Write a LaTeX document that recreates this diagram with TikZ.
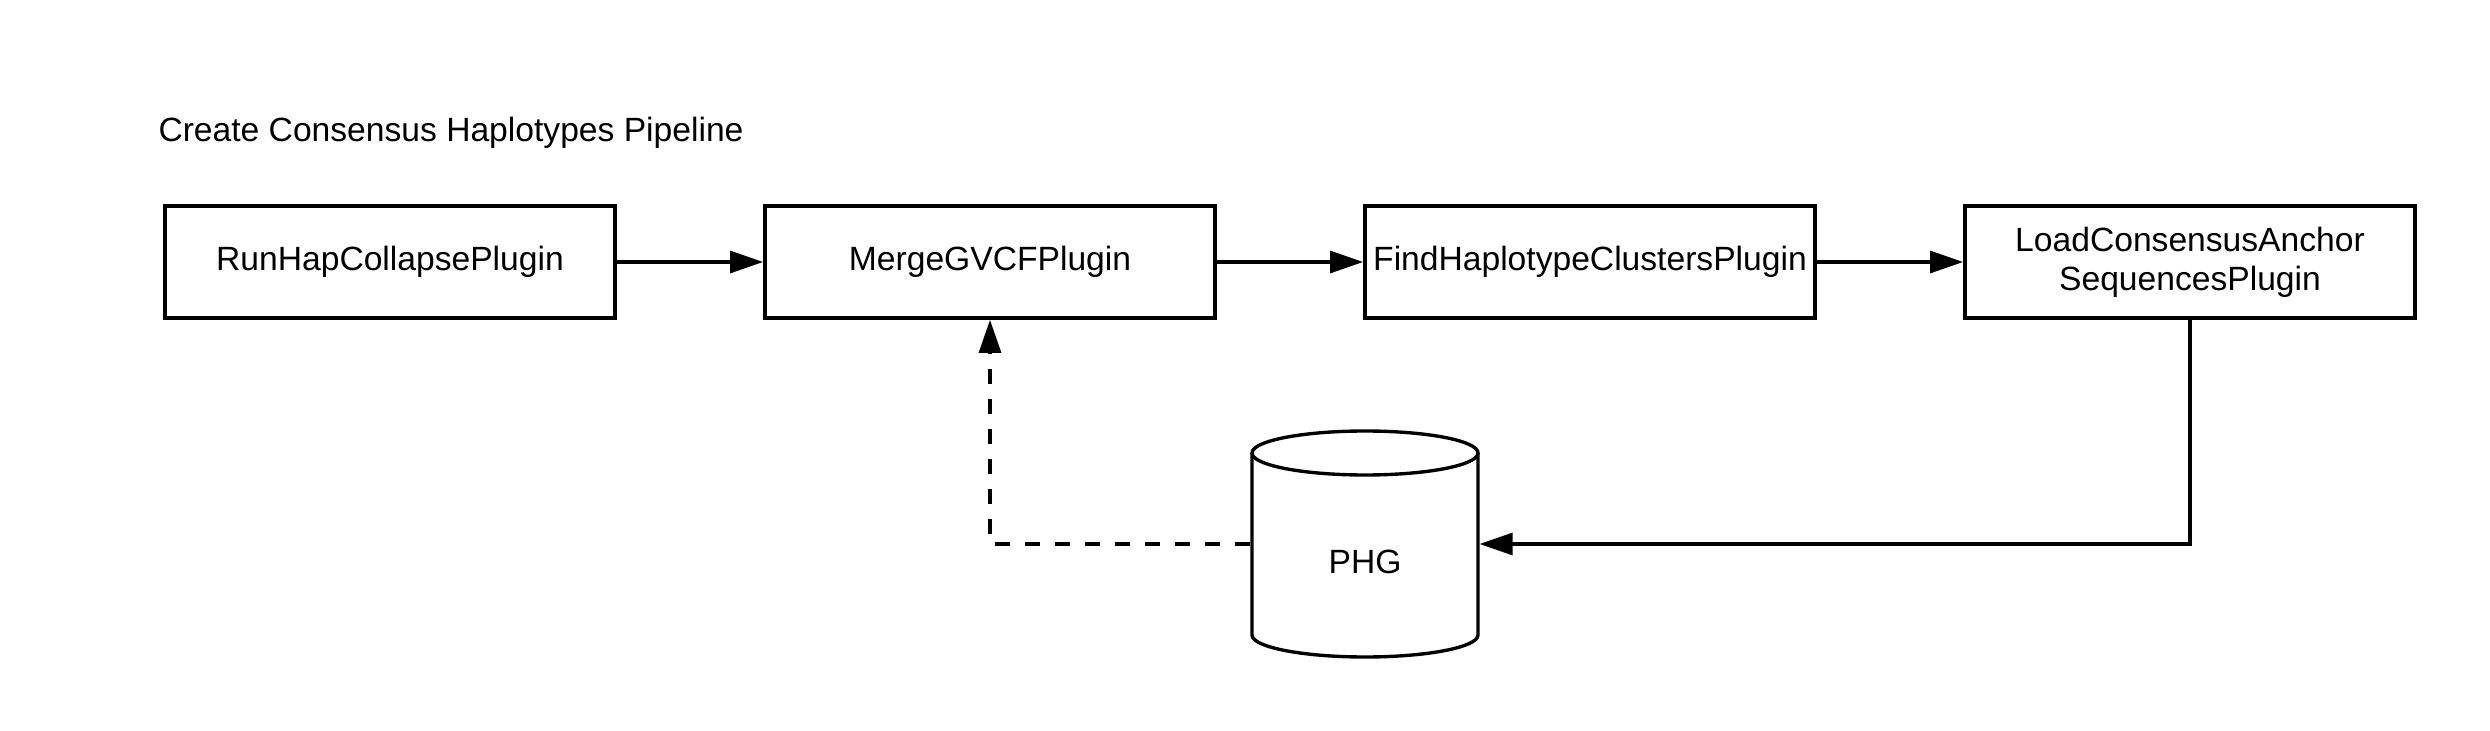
\documentclass[tikz,border=0pt]{standalone}
\usepackage{fontspec}
\setmainfont{Liberation Sans}
\usetikzlibrary{arrows.meta}
\begin{document}
\begin{tikzpicture}[x=0.4pt,y=-0.4pt,
  font=\fontsize{13.45pt}{15.6pt}\selectfont,
  plugbox/.style={draw,line width=1.55pt,minimum width=180pt,minimum height=44.8pt,inner sep=0pt,align=center},
  conn/.style={line width=1.3pt,-{Triangle[length=13.2pt,width=8.8pt]}},
  dashconn/.style={conn,dash pattern=on 6pt off 6pt},
  cyl/.style={line width=1.35pt}]
\fill[white] (0,0) rectangle (2490,731);
\useasboundingbox (0,0) rectangle (2490,731);
\node[anchor=base west,inner sep=0pt] (title) at (158,142) {Create Consensus Haplotypes Pipeline};
\node[plugbox] (b1) at (390,262) {RunHapCollapsePlugin};
\node[plugbox] (b2) at (990,262) {MergeGVCFPlugin};
\node[plugbox] (b3) at (1590,262) {FindHaplotypeClustersPlugin};
\node[plugbox] (b4) at (2190,262) {LoadConsensusAnchor\\SequencesPlugin};
% cylinder
\node[minimum width=90.4pt,minimum height=90.4pt,inner sep=0pt,outer sep=0.65pt] (phg) at (1365,544) {};
\draw[cyl] (1252,453) -- (1252,635) arc[start angle=180,end angle=360,x radius=45.2pt,y radius=8.8pt] -- (1478,453);
\draw[cyl] (1365,453) ellipse [x radius=45.2pt,y radius=8.8pt];
\node (phglabel) at (1365,562) {PHG};
% connectors
\draw[conn] (b1) -- (b2);
\draw[conn] (b2) -- (b3);
\draw[conn] (b3) -- (b4);
\draw[conn] (b4.south) |- (phg.east);
\draw[dashconn] (phg.west) -| (b2.south);
\end{tikzpicture}
\end{document}
